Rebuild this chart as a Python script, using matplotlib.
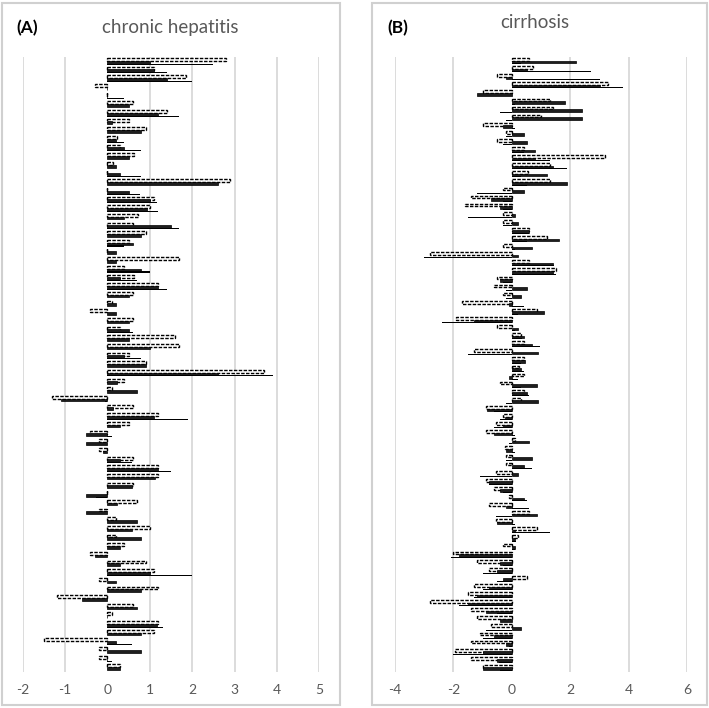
import matplotlib
matplotlib.use("Agg")
from matplotlib import pyplot as plt
from matplotlib.patches import Rectangle
import numpy as np

plt.rcParams['font.family'] = ['Lato', 'DejaVu Sans']

# (A) chronic hepatitis: three series per row (dashed / dark / thin)
hep_a = [2.8, 1.1, 1.85, -0.3, 0, 0.6, 1.4, 0.5, 0.9, 0.23, 0.3, 0.62, 0.13, 0, 2.9, 0, 1.1, 1.0, 0.72,
         0.6, 0.92, 0.5, 0, 1.7, 0.4, 0.62, 1.2, 0.6, 0.1, -0.4, 0.6, 0.3, 1.6, 1.7, 0.5, 0.9,
         3.7, 0.4, 0.1, -1.3, 0.6, 1.2, 0.5, -0.4, -0.2, -0.2, 0.6, 1.2, 1.2, 0.6, 0, 0.7, -0.2, 0.2,
         1.0, 0.2, 0.4, -0.4, 0.9, 1.1, -0.2, 1.2, -1.2, 0.6, 0.1, 1.2, 1.1, -1.5, -0.2, -0.2, 0.3]
hep_b = [1.0, 1.1, 1.4, 0, 0, 0.5, 1.2, 0.1, 0.8, 0.2, 0.4, 0.5, 0.2, 0.3, 2.6, 0.5, 1.0, 0.94, 0.4,
         1.49, 0.8, 0.6, 0.2, 0.2, 0.8, 0.3, 1.2, 0.5, 0.2, 0.2, 0.5, 0.5, 0.5, 1.0, 0.4, 0.9,
         2.6, 0.23, 0.7, -1.1, 0.13, 1.1, 0.3, -0.5, -0.5, -0.1, 0.3, 1.2, 1.13, 0.58, -0.5, 0.23, -0.5, 0.7,
         0.58, 0.8, 0.3, -0.3, 0.3, 1.0, 0.2, 0.8, -0.6, 0.7, 0, 1.17, 0.8, 0.2, 0.8, 0, 0.3]
hep_c = [2.5, 1.4, 2.0, 0, 0.4, 0, 1.7, 0, 0, 0.4, 0.8, 0, 0, 0.8, 0, 0.78, 1.17, 1.19, 0,
         1.68, 0, 0.4, 0, 0, 1.0, 0.7, 1.4, 0, 0, 0, 0, 0.6, 0, 0, 0.8, 0,
         3.9, 0, 0, -0.05, 0, 1.9, 0, 0.1, 0, 0, 0.58, 1.5, 0, 0, -0.28, 0, 0, 0,
         0, 0, 0, 0, 0, 2.0, 0, 0, 0, 0, 0, 1.3, 0, 0.58, 0, 0.1, 0]

# (B) cirrhosis
cir_a = [0.6, 0.73, -0.5, 3.3, -1.0, 1.3, 1.4, 1.0, -1.0, -0.2, -0.5, 0.4, 3.2, 1.3, 0.55, 1.3, -0.3,
         -1.4, -1.6, -0.3, -0.3, 0.6, 1.2, -0.3, -2.8, 0.6, 1.5, -0.5, -0.6, -0.3, -1.7, 0.85, -1.9,
         -0.5, 0.3, 0.4, -1.3, 0.4, 0.25, 0.4, -0.4, 0.4, 0.3, -0.9, -0.3, -0.55, -0.9, 0.1, -0.25,
         -0.2, -0.2, -0.55, -0.9, -0.6, -0.1, -0.8, 0.6, -0.55, 0.85, 0.2, -0.3, -2.0, -1.2, -0.8,
         0.5, -1.3, -1.5, -2.8, -1.4, -1.2, -0.7, -1.1, -1.4, -1.95, -1.4, -1.0]
cir_b = [2.2, 0.5, -0.2, 3.0, -1.2, 1.8, 2.4, 2.4, -0.3, 0.4, 0.5, 0.8, 0.8, 1.4, 1.2, 1.9, 0.4,
         -0.7, -0.4, 0.1, 0.2, 0.6, 1.6, 0.7, 0.2, 1.4, 1.4, -0.4, 0.5, 0.3, -0.1, 1.1, -1.3,
         0.2, 0.4, 0.7, 0.9, 0.45, 0.3, -0.1, 0.85, 0.5, 0.9, -0.85, -0.25, -0.3, -0.6, 0.6, -0.2,
         0.7, 0.4, 0.2, -0.8, -0.4, 0.4, -0.2, 0.85, -0.5, 0.1, 0.1, 0.1, -1.8, -0.4, -0.5,
         -0.3, -0.8, -1.2, -1.5, -0.9, -0.4, 0.3, -0.6, -0.2, -1.0, -0.5, -1.0]
cir_c = [0.3, 2.7, 3.0, 3.8, 0.2, 0.1, -0.4, -0.2, 0.1, -0.2, -0.3, 0.4, 1.3, 1.9, 0.3, 0.5, -1.2,
         -0.3, -0.3, -1.5, -0.3, 0.6, 0.5, 0.1, -3.0, 1.45, 1.5, -0.3, -0.2, -0.2, 0.4, 0.2, -2.4,
         0.1, 0.35, 0.95, -1.5, 0.3, 0.4, 0.2, 0.3, 0.6, -0.2, -0.6, -0.4, -0.6, 0.1, -0.1, 0.1,
         -0.2, 0.7, -1.1, -0.8, -0.3, 0.5, 0.6, -0.55, 0.1, 1.3, 0.15, 0.1, -2.1, -0.3, -1.0,
         -0.5, -1.0, -1.3, -1.8, -0.5, -0.6, -0.9, -1.0, -0.1, -2.0, -0.45, -0.4]

fig = plt.figure(figsize=(7.09, 7.08), dpi=100)

# 面板边框
for x0, x1 in [(2, 340), (372, 707)]:
    fig.add_artist(Rectangle((x0 / 709, 3 / 708), (x1 - x0) / 709, 702 / 708,
                             transform=fig.transFigure, fill=False,
                             edgecolor='#d0d0d0', linewidth=1.5))

ax1 = fig.add_axes([22.7 / 709, 36 / 708, 296.6 / 709, 615 / 708])
ax2 = fig.add_axes([395 / 709, 36 / 708, 292.3 / 709, 615 / 708])


def draw_panel(ax, a, b, c, ticks):
    y = np.arange(len(a))
    ax.barh(y - 0.2, a, height=0.34, color='white', edgecolor='black',
            linewidth=1.0, linestyle=(0, (2.5, 1)), zorder=3)
    ax.barh(y + 0.1, b, height=0.32, color='#1e1e1e', edgecolor='black',
            linewidth=0.5, zorder=3)
    ax.barh(y + 0.32, c, height=0.12, color='black', linewidth=0, zorder=3)
    for v in ticks:
        if v != 0:
            ax.axvline(v, color='#d9d9d9', linewidth=1.3, zorder=0)
    ax.set_xlim(ticks[0], ticks[-1])
    ax.set_ylim(len(a) - 0.5, -0.5)
    ax.set_xticks(ticks)
    ax.set_xticklabels([str(v) for v in ticks])
    ax.set_yticks([])
    ax.tick_params(axis='x', length=0, pad=9, labelsize=10, labelcolor='#595959')
    for s in ax.spines.values():
        s.set_visible(False)


draw_panel(ax1, hep_a, hep_b, hep_c, [-2, -1, 0, 1, 2, 3, 4, 5])
draw_panel(ax2, cir_a, cir_b, cir_c, [-4, -2, 0, 2, 4, 6])

fig.text(170 / 709, 1 - 27 / 708, 'chronic hepatitis', ha='center', va='center',
         fontsize=13.5, color='#595959')
fig.text(535 / 709, 1 - 22 / 708, 'cirrhosis', ha='center', va='center',
         fontsize=13.5, color='#595959')
fig.text(16 / 709, 1 - 28 / 708, '(A)', ha='left', va='center', fontsize=12.5,
         fontweight='bold', color='black')
fig.text(387 / 709, 1 - 28 / 708, '(B)', ha='left', va='center', fontsize=12.5,
         fontweight='bold', color='black')

plt.savefig('out.png', dpi=100)
